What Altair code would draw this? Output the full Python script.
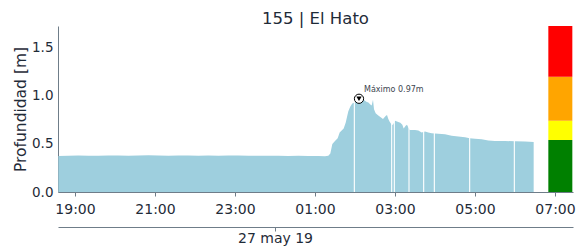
import altair as alt
import pandas as pd

# ---- data ----
times = [
    "2019-05-26T18:35:00", "2019-05-26T18:50:00", "2019-05-26T19:05:00", "2019-05-26T19:20:00",
    "2019-05-26T19:35:00", "2019-05-26T19:50:00", "2019-05-26T20:05:00", "2019-05-26T20:20:00",
    "2019-05-26T20:35:00", "2019-05-26T20:50:00", "2019-05-26T21:05:00", "2019-05-26T21:20:00",
    "2019-05-26T21:35:00", "2019-05-26T21:50:00", "2019-05-26T22:05:00", "2019-05-26T22:20:00",
    "2019-05-26T22:35:00", "2019-05-26T22:50:00", "2019-05-26T23:05:00", "2019-05-26T23:20:00",
    "2019-05-26T23:35:00", "2019-05-26T23:50:00", "2019-05-27T00:05:00", "2019-05-27T00:20:00",
    "2019-05-27T00:35:00", "2019-05-27T00:50:00", "2019-05-27T01:05:00", "2019-05-27T01:15:00",
    "2019-05-27T01:20:00", "2019-05-27T01:23:00", "2019-05-27T01:26:00", "2019-05-27T01:30:00",
    "2019-05-27T01:34:00", "2019-05-27T01:37:00", "2019-05-27T01:40:00", "2019-05-27T01:43:00",
    "2019-05-27T01:46:00", "2019-05-27T01:48:00", "2019-05-27T01:50:00", "2019-05-27T01:53:00",
    "2019-05-27T01:56:00", "2019-05-27T01:59:00", "2019-05-27T02:03:00", "2019-05-27T02:06:00",
    "2019-05-27T02:09:00", "2019-05-27T02:13:00", "2019-05-27T02:17:00", "2019-05-27T02:20:00",
    "2019-05-27T02:23:00", "2019-05-27T02:25:00", "2019-05-27T02:27:00", "2019-05-27T02:28:30",
    "2019-05-27T02:31:00", "2019-05-27T02:34:00", "2019-05-27T02:38:00", "2019-05-27T02:42:00",
    "2019-05-27T02:46:00", "2019-05-27T02:48:00", "2019-05-27T02:50:00", "2019-05-27T02:52:00",
    "2019-05-27T02:55:00", "2019-05-27T02:57:00", "2019-05-27T03:00:00", "2019-05-27T03:04:00",
    "2019-05-27T03:08:00", "2019-05-27T03:11:00", "2019-05-27T03:13:00", "2019-05-27T03:16:00",
    "2019-05-27T03:18:00", "2019-05-27T03:20:00", "2019-05-27T03:22:00", "2019-05-27T03:30:00",
    "2019-05-27T03:35:00", "2019-05-27T03:40:00", "2019-05-27T03:45:00", "2019-05-27T03:50:00",
    "2019-05-27T03:55:00", "2019-05-27T04:05:00", "2019-05-27T04:15:00", "2019-05-27T04:25:00",
    "2019-05-27T04:35:00", "2019-05-27T04:45:00", "2019-05-27T04:52:00", "2019-05-27T05:00:00",
    "2019-05-27T05:10:00", "2019-05-27T05:20:00", "2019-05-27T05:30:00", "2019-05-27T05:45:00",
    "2019-05-27T06:00:00", "2019-05-27T06:15:00", "2019-05-27T06:28:00",
]
depth = [
    0.374, 0.377, 0.379, 0.376, 0.378, 0.380, 0.381, 0.378,
    0.379, 0.382, 0.380, 0.377, 0.379, 0.381, 0.378, 0.380,
    0.377, 0.379, 0.380, 0.376, 0.377, 0.378, 0.376, 0.375,
    0.377, 0.374, 0.375, 0.372, 0.378, 0.40, 0.50, 0.53,
    0.56, 0.62, 0.64, 0.66, 0.72, 0.78, 0.84, 0.89,
    0.92, 0.93, 0.95, 0.97, 0.95, 0.96, 0.94, 0.93,
    0.91, 0.90, 0.96, 0.86, 0.82, 0.80, 0.78, 0.76,
    0.79, 0.80, 0.76, 0.73, 0.70, 0.70, 0.74, 0.73,
    0.72, 0.70, 0.66, 0.69, 0.70, 0.67, 0.645, 0.645,
    0.64, 0.62, 0.63, 0.62, 0.61, 0.605, 0.60, 0.585,
    0.578, 0.57, 0.56, 0.555, 0.55, 0.535, 0.53, 0.53,
    0.528, 0.525, 0.52,
]
gap_times = [
    "2019-05-27T01:59:00", "2019-05-27T02:55:00", "2019-05-27T02:59:00", "2019-05-27T03:21:00",
    "2019-05-27T03:43:00", "2019-05-27T03:59:00", "2019-05-27T04:52:00", "2019-05-27T05:59:00",
]
max_time = ["2019-05-27T02:06:00"]
max_value = [0.97]
max_label = ["Máximo 0.97m"]

level_low = [0.0, 0.54, 0.74, 1.20]
level_high = [0.54, 0.74, 1.20, 1.727]
level_color = ["#008000", "#ffff00", "#ffa500", "#ff0000"]
bar_start = "2019-05-27T06:50:00"
bar_end = "2019-05-27T07:26:00"

tick_times = [
    (2019, 5, 26, 19), (2019, 5, 26, 21), (2019, 5, 26, 23),
    (2019, 5, 27, 1), (2019, 5, 27, 3), (2019, 5, 27, 5), (2019, 5, 27, 7),
]
date_tick = (2019, 5, 27, 0)

# ---- tables ----
series = pd.DataFrame({"t": times, "v": depth})
gaps = pd.DataFrame({"t": gap_times})
peak = pd.DataFrame({"t": max_time, "v": max_value, "label": max_label})
levels = pd.DataFrame({
    "t": [bar_start] * 4, "t2": [bar_end] * 4,
    "lo": level_low, "hi": level_high, "c": level_color,
})

TEXT = "#1f2b38"
AXIS = "#6f7d89"
FONT = "DejaVu Sans"


def dt(y, m, d, h, mi=0, s=0):
    return alt.DateTime(year=y, month=m, date=d, hours=h, minutes=mi, seconds=s)


xscale = alt.Scale(domain=[dt(2019, 5, 26, 18, 34, 30), dt(2019, 5, 27, 7, 27)])
yscale = alt.Scale(domain=[0, 1.727], nice=False, zero=True)

main_x_axis = alt.Axis(
    orient="bottom",
    values=[dt(*tt) for tt in tick_times], format="%H:%M", title=None,
    labelFontSize=14, labelColor=TEXT, labelFont=FONT, tickColor=AXIS, domainColor=AXIS,
    tickSize=4, labelPadding=6, grid=False, labelFlush=False, labelOverlap=False,
)
date_axis = alt.Axis(
    orient="bottom",
    values=[dt(*date_tick)], labelExpr="lower(timeFormat(datum.value, '%-d %b %y'))",
    title=None, offset=35, labelFontSize=14, labelColor=TEXT, labelFont=FONT,
    tickColor=AXIS, domainColor=AXIS, tickSize=4, labelPadding=0, grid=False,
    labelFlush=False, labelOverlap=False,
)
y_axis = alt.Axis(
    orient="left",
    values=[0, 0.5, 1.0, 1.5], format=".1f", title="Profundidad [m]",
    titleFontSize=15.5, titleFont=FONT, titleColor=TEXT, titleFontWeight="normal", titlePadding=3,
    labelFontSize=13.5, labelColor=TEXT, labelFont=FONT, ticks=False, labelPadding=5,
    domainColor=AXIS, grid=False,
)

area = alt.Chart(series).mark_area(color="#9ecfde", opacity=1, interpolate="linear").encode(
    x=alt.X("t:T", scale=xscale, axis=main_x_axis),
    y=alt.Y("v:Q", scale=yscale, axis=y_axis),
)

gap_rules = alt.Chart(gaps).mark_rule(color="white", strokeWidth=1.1).encode(
    x=alt.X("t:T", scale=xscale, axis=date_axis),
    y=alt.datum(0, scale=yscale, axis=None),
    y2=alt.datum(1.1),
)

bar = alt.Chart(levels).mark_rect().encode(
    x=alt.X("t:T", scale=xscale, axis=None),
    x2="t2:T",
    y=alt.Y("lo:Q", scale=yscale, axis=None),
    y2="hi:Q",
    color=alt.Color("c:N", scale=None),
)

peak_circle = alt.Chart(peak).mark_point(
    shape="circle", size=85, filled=True, fill="white", stroke="black", strokeWidth=1, opacity=1
).encode(
    x=alt.X("t:T", scale=xscale, axis=None),
    y=alt.Y("v:Q", scale=yscale, axis=None),
)
peak_tri = alt.Chart(peak).mark_point(
    shape="triangle-down", size=28, filled=True, color="black", opacity=1
).encode(
    x=alt.X("t:T", scale=xscale, axis=None),
    y=alt.Y("v:Q", scale=yscale, axis=None),
)
peak_text = alt.Chart(peak).mark_text(
    align="left", baseline="alphabetic", dx=5, dy=-7, fontSize=8, font=FONT, color="#3d4650"
).encode(
    x=alt.X("t:T", scale=xscale, axis=None),
    y=alt.Y("v:Q", scale=yscale, axis=None),
    text="label:N",
)

chart = alt.layer(area, gap_rules, bar, peak_circle, peak_tri, peak_text).resolve_axis(
    x="independent", y="independent"
).properties(
    width=515, height=166,
    title=alt.TitleParams("155 | El Hato", fontSize=16.5, font=FONT, color=TEXT,
                          fontWeight="normal", offset=-1),
    autosize=alt.AutoSizeParams(type="none"),
    padding={"left": 50, "top": 18, "right": 4, "bottom": 58},
).configure_view(stroke=None)

chart.save("out.html", embed_options={"renderer": "svg", "actions": False})
